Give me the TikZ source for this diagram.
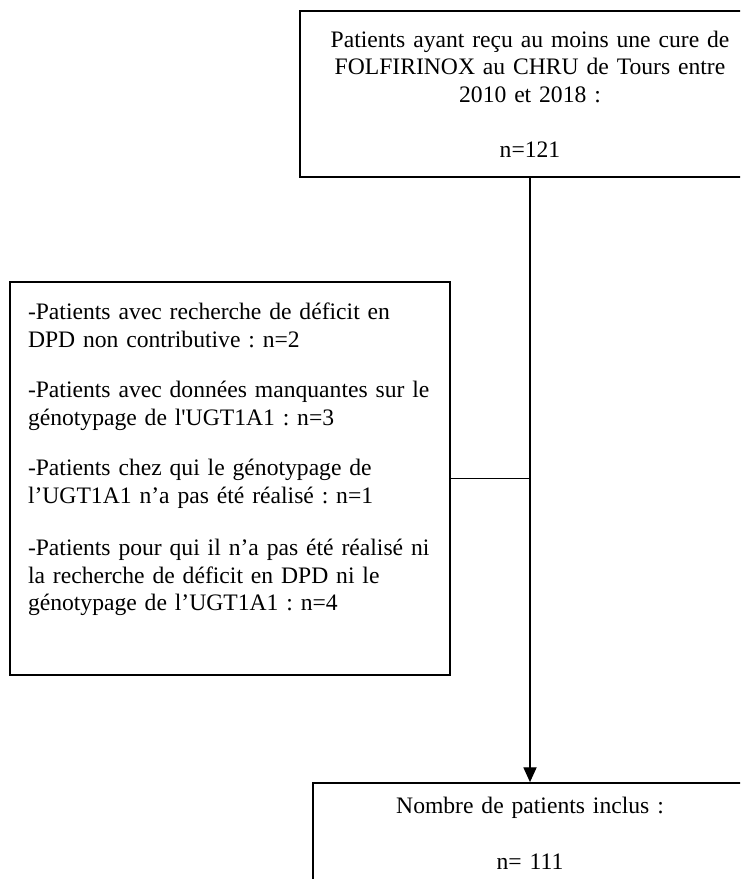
\documentclass[tikz,border=0pt]{standalone}
\usepackage{fontspec}
\setmainfont{Liberation Serif}
\usetikzlibrary{arrows.meta,positioning}
\frenchspacing
\tikzset{
  box/.style={draw,rectangle,line width=1.4pt,align=center,inner sep=0pt,
    font=\fontsize{16.8}{19.8}\selectfont},
  listbox/.style={box,align=left,text width=10.1cm,inner xsep=0.45cm},
  link/.style={line width=0.8pt}
}

\begin{document}
\begin{tikzpicture}
  \useasboundingbox (0,0) rectangle (18.5,-21.975);
  \clip (0,0) rectangle (18.5,-21.975);

  \node[box,text width=10.8cm,minimum width=11.5cm,minimum height=4.15cm] (start) at (13.25,-2.35)
    {Patients ayant reçu au moins une cure de\\FOLFIRINOX au CHRU de Tours entre\\2010 et 2018 :\\[19pt]n=121};
  \node[listbox,minimum width=11cm,minimum height=9.825cm] (excl) at (5.75,-11.96)
    {-Patients avec recherche de déficit en\\DPD non contributive : n=2\\[16pt]
     -Patients avec données manquantes sur le\\génotypage de l\textquotesingle UGT1A1 : n=3\\[16pt]
     -Patients chez qui le génotypage de\\l’UGT1A1 n’a pas été réalisé : n=1\\[17pt]
     -Patients pour qui il n’a pas été réalisé ni\\la recherche de déficit en DPD ni le\\génotypage de l’UGT1A1 : n=4\\[11pt]\mbox{}};
  \node[box,text width=10.2cm,minimum width=10.85cm,minimum height=2.525cm] (incl) at (13.25,-20.84)
    {Nombre de patients inclus :\\[20pt]n= 111};

  \draw[link,-{Triangle[width=3.3mm,length=3.7mm]}] (start) -- (incl);
  \draw[link] (excl.east) -- (excl.east -| start.south);
\end{tikzpicture}
\end{document}
